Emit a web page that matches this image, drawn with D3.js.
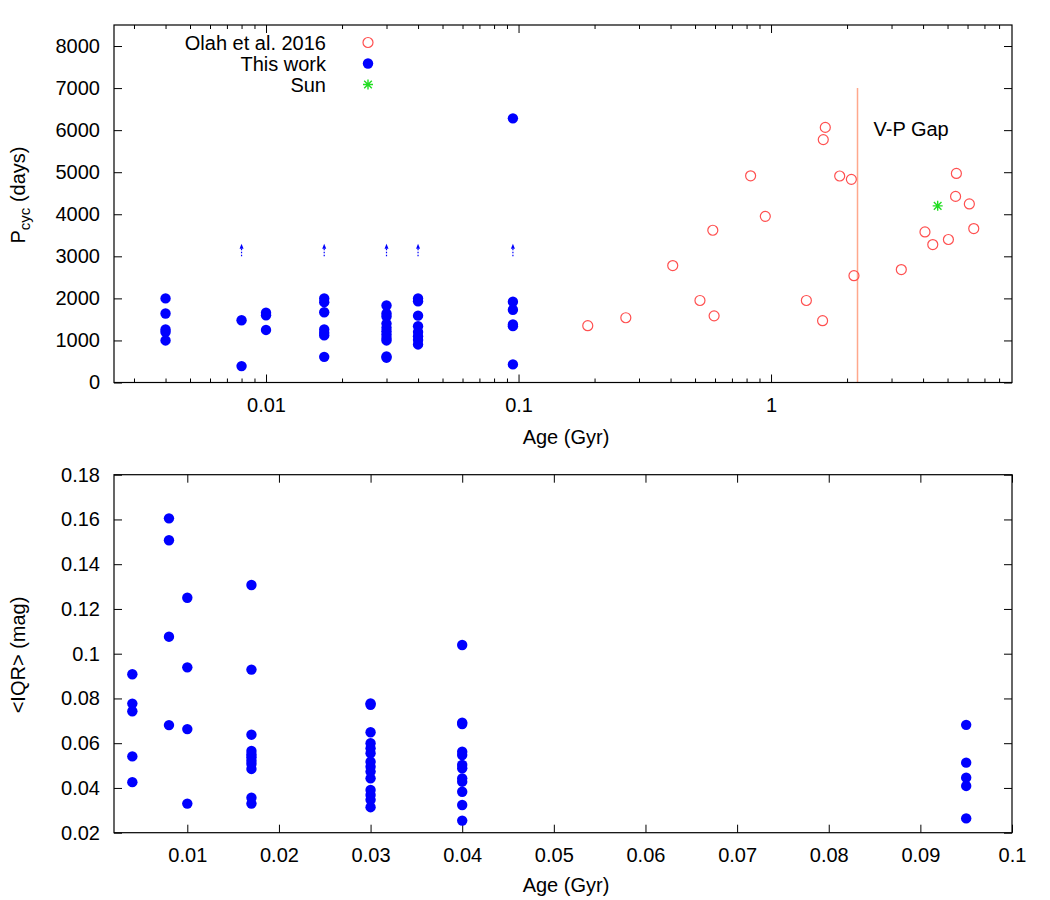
<!DOCTYPE html>
<html>
<head>
<meta charset="utf-8">
<script src="https://cdn.jsdelivr.net/npm/d3@7"></script>
<style>
  body { margin: 0; background: #fff; }
  svg { font-family: "Liberation Sans", Arial, sans-serif; }
  .axis text { font-size: 20px; fill: #000; }
  .axis line { stroke: #000; }
  .axis path { display: none; }
</style>
</head>
<body>
<div id="plot"></div>
<script>
// cluster ages (Gyr) for "This work"
var clusterAges = [0.004, 0.008, 0.01, 0.017, 0.03, 0.04, 0.095];
// cycle periods (days) per cluster
var pcycByCluster = [
  [2000, 1640, 1260, 1200, 1000],
  [1480, 390],
  [1660, 1600, 1250],
  [2000, 1910, 1670, 1260, 1180, 1120, 610],
  [1830, 1640, 1570, 1400, 1300, 1220, 1140, 1060, 1000, 620, 590],
  [2000, 1930, 1590, 1340, 1200, 1100, 1010, 905],
  [6280, 1920, 1730, 1380, 1340, 430]
];
// <IQR> (mag) per cluster
var iqrByCluster = [
  [0.0908, 0.0777, 0.0743, 0.0541, 0.0426],
  [0.1605, 0.1507, 0.1076, 0.0681],
  [0.125, 0.0939, 0.0663, 0.033],
  [0.1307, 0.0929, 0.0638, 0.0565, 0.055, 0.0537, 0.0522, 0.0507, 0.0485, 0.0356, 0.033],
  [0.0778, 0.0772, 0.0649, 0.06, 0.0577, 0.0555, 0.0517, 0.0495, 0.0473, 0.0443, 0.0391, 0.0369, 0.0347, 0.0314],
  [0.1039, 0.0692, 0.0686, 0.0562, 0.0547, 0.0503, 0.0488, 0.0443, 0.0428, 0.0383, 0.0324, 0.0254],
  [0.0682, 0.0513, 0.0446, 0.0409, 0.0264]
];
// lower limits (arrows)
var limitAges = [0.008, 0.017, 0.03, 0.04, 0.095];
var limitFrom = 3000, limitTo = 3300;

// Olah et al. 2016
var olahAge  = [0.188, 0.266, 0.408, 0.523, 0.588, 0.595, 0.83, 0.949, 1.38, 1.60, 1.64, 1.61, 1.87, 2.08, 2.13, 3.28, 4.07, 4.37, 5.04, 5.42, 5.38, 6.1, 6.35];
var olahPcyc = [1350, 1540, 2780, 1950, 3620, 1585, 4915, 3950, 1950, 1470, 6065, 5775, 4910, 4830, 2540, 2685, 3580, 3280, 3400, 4970, 4425, 4245, 3660];

var sunAge = 4.57, sunPcyc = 4200;
var gapAge = 2.2, gapTop = 7000;

var topXTicks = [0.01, 0.1, 1];
var topYTicks = d3.range(0, 9).map(function(i) { return i * 1000; });
var botXTicks = d3.range(1, 11).map(function(i) { return i / 100; });
var botYTicks = d3.range(2, 19, 2).map(function(i) { return i / 100; });

var legendLabels = ["Olah et al. 2016", "This work", "Sun"];

var blue = "#0000ff", red = "#ff5050", green = "#22dd22", salmon = "#ffa88c";

var svg = d3.select("#plot").append("svg")
  .attr("width", 1050).attr("height", 900);

// ---------- top panel ----------
var p1 = {left: 114, right: 1012, top: 25, bottom: 382.5};
var x1 = d3.scaleLog().domain([0.0025, 9]).range([p1.left, p1.right]);
var y1 = d3.scaleLinear().domain([0, 8500]).range([p1.bottom, p1.top]);

var minors = [];
[0.001, 0.01, 0.1, 1].forEach(function(dec) {
  for (var k = 2; k <= 9; k++) {
    var v = dec * k;
    if (v > 0.0025 && v < 9) minors.push(v);
  }
});

var g1 = svg.append("g");
g1.append("g").attr("class", "axis")
  .attr("transform", "translate(0," + p1.bottom + ")")
  .call(d3.axisBottom(x1).tickValues(topXTicks).tickSize(-8).tickPadding(15).tickFormat(function(d) { return String(d); }));
g1.append("g").attr("class", "axis")
  .attr("transform", "translate(0," + p1.bottom + ")")
  .call(d3.axisBottom(x1).tickValues(minors).tickSize(-4).tickFormat(""));
g1.append("g").attr("class", "axis")
  .attr("transform", "translate(0," + p1.top + ")")
  .call(d3.axisTop(x1).tickValues(topXTicks).tickSize(-8).tickFormat(""));
g1.append("g").attr("class", "axis")
  .attr("transform", "translate(0," + p1.top + ")")
  .call(d3.axisTop(x1).tickValues(minors).tickSize(-4).tickFormat(""));
g1.append("g").attr("class", "axis")
  .attr("transform", "translate(" + p1.left + ",0)")
  .call(d3.axisLeft(y1).tickValues(topYTicks).tickSize(-8).tickPadding(14).tickFormat(function(d) { return String(d); }));
g1.append("g").attr("class", "axis")
  .attr("transform", "translate(" + p1.right + ",0)")
  .call(d3.axisRight(y1).tickValues(topYTicks).tickSize(-8).tickFormat(""));

// V-P gap line
g1.append("line")
  .attr("x1", x1(gapAge)).attr("x2", x1(gapAge))
  .attr("y1", y1(0)).attr("y2", y1(gapTop))
  .attr("stroke", salmon).attr("stroke-width", 1.5);
g1.append("text")
  .attr("x", x1(gapAge) + 16).attr("y", y1(5850))
  .attr("font-size", 20)
  .text("V-P Gap");

// Olah circles
g1.append("g").selectAll("circle")
  .data(olahAge.map(function(a, i) { return [a, olahPcyc[i]]; }))
  .enter().append("circle")
    .attr("cx", function(d) { return x1(d[0]); })
    .attr("cy", function(d) { return y1(d[1]); })
    .attr("r", 5)
    .attr("fill", "none")
    .attr("stroke", red)
    .attr("stroke-width", 1.2);

// this work dots
var topPts = [];
clusterAges.forEach(function(a, i) {
  pcycByCluster[i].forEach(function(p) { topPts.push([a, p]); });
});
g1.append("g").selectAll("circle")
  .data(topPts)
  .enter().append("circle")
    .attr("cx", function(d) { return x1(d[0]); })
    .attr("cy", function(d) { return y1(d[1]); })
    .attr("r", 5.2)
    .attr("fill", blue);

// lower limit arrows
var arrows = g1.append("g").selectAll("g")
  .data(limitAges)
  .enter().append("g")
    .attr("transform", function(d) { return "translate(" + x1(d) + ",0)"; });
arrows.append("line")
  .attr("y1", y1(limitFrom)).attr("y2", y1(limitTo) + 4)
  .attr("stroke", blue).attr("stroke-width", 1.2)
  .attr("stroke-dasharray", "1.5,1.5");
arrows.append("path")
  .attr("d", "M0," + y1(limitTo) + "L-2," + (y1(limitTo) + 5) + "L2," + (y1(limitTo) + 5) + "Z")
  .attr("fill", blue);

// sun
var star = "M-5,0L5,0M0,-5L0,5M-3.8,-3.8L3.8,3.8M-3.8,3.8L3.8,-3.8";
g1.append("path")
  .attr("transform", "translate(" + x1(sunAge) + "," + y1(sunPcyc) + ")")
  .attr("d", star).attr("stroke", green).attr("stroke-width", 1.4).attr("fill", "none");

// frame
g1.append("rect")
  .attr("x", p1.left).attr("y", p1.top)
  .attr("width", p1.right - p1.left).attr("height", p1.bottom - p1.top)
  .attr("fill", "none").attr("stroke", "#000").attr("stroke-width", 1.2);

// legend
var leg = g1.append("g").selectAll("g")
  .data(legendLabels)
  .enter().append("g")
    .attr("transform", function(d, i) { return "translate(0," + (42.5 + i * 21) + ")"; });
leg.append("text")
  .attr("x", 326).attr("dy", "0.35em")
  .attr("text-anchor", "end").attr("font-size", 20)
  .text(function(d) { return d; });
leg.filter(function(d, i) { return i === 0; }).append("circle")
  .attr("cx", 368).attr("r", 5).attr("fill", "none").attr("stroke", red).attr("stroke-width", 1.2);
leg.filter(function(d, i) { return i === 1; }).append("circle")
  .attr("cx", 368).attr("r", 5.2).attr("fill", blue);
leg.filter(function(d, i) { return i === 2; }).append("path")
  .attr("transform", "translate(368,0)")
  .attr("d", star).attr("stroke", green).attr("stroke-width", 1.4).attr("fill", "none");

// axis labels
g1.append("text")
  .attr("x", (p1.left + p1.right) / 2 + 3).attr("y", 444)
  .attr("text-anchor", "middle").attr("font-size", 20)
  .text("Age (Gyr)");
var yl1 = g1.append("text")
  .attr("transform", "translate(25,195) rotate(-90)")
  .attr("text-anchor", "middle").attr("font-size", 20);
yl1.append("tspan").text("P");
yl1.append("tspan").attr("font-size", 15).attr("dy", 5).text("cyc");
yl1.append("tspan").attr("dy", -5).text(" (days)");

// ---------- bottom panel ----------
var p2 = {left: 114, right: 1012, top: 474.7, bottom: 832.7};
var x2 = d3.scaleLinear().domain([0.002, 0.1]).range([p2.left, p2.right]);
var y2 = d3.scaleLinear().domain([0.02, 0.18]).range([p2.bottom, p2.top]);

var g2 = svg.append("g");
g2.append("g").attr("class", "axis")
  .attr("transform", "translate(0," + p2.bottom + ")")
  .call(d3.axisBottom(x2).tickValues(botXTicks).tickSize(-8).tickPadding(15).tickFormat(function(d) { return String(d); }));
g2.append("g").attr("class", "axis")
  .attr("transform", "translate(0," + p2.top + ")")
  .call(d3.axisTop(x2).tickValues(botXTicks).tickSize(-8).tickFormat(""));
g2.append("g").attr("class", "axis")
  .attr("transform", "translate(" + p2.left + ",0)")
  .call(d3.axisLeft(y2).tickValues(botYTicks).tickSize(-8).tickPadding(14).tickFormat(function(d) { return String(d); }));
g2.append("g").attr("class", "axis")
  .attr("transform", "translate(" + p2.right + ",0)")
  .call(d3.axisRight(y2).tickValues(botYTicks).tickSize(-8).tickFormat(""));

var botPts = [];
clusterAges.forEach(function(a, i) {
  iqrByCluster[i].forEach(function(v) { botPts.push([a, v]); });
});
g2.append("g").selectAll("circle")
  .data(botPts)
  .enter().append("circle")
    .attr("cx", function(d) { return x2(d[0]); })
    .attr("cy", function(d) { return y2(d[1]); })
    .attr("r", 5.2)
    .attr("fill", blue);

g2.append("rect")
  .attr("x", p2.left).attr("y", p2.top)
  .attr("width", p2.right - p2.left).attr("height", p2.bottom - p2.top)
  .attr("fill", "none").attr("stroke", "#000").attr("stroke-width", 1.2);

g2.append("text")
  .attr("x", (p2.left + p2.right) / 2 + 3).attr("y", 892)
  .attr("text-anchor", "middle").attr("font-size", 20)
  .text("Age (Gyr)");
g2.append("text")
  .attr("transform", "translate(25,655) rotate(-90)")
  .attr("text-anchor", "middle").attr("font-size", 20)
  .text("<IQR> (mag)");
</script>
</body>
</html>
